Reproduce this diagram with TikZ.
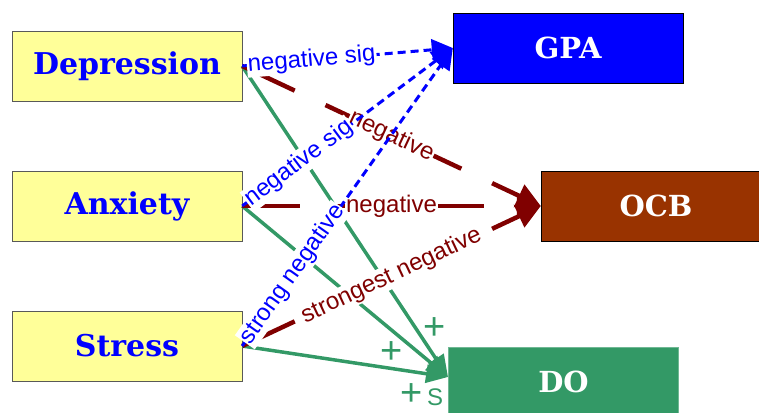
\documentclass[tikz,border=0pt]{standalone}
\usepackage{fontspec}
\newfontfamily\labelfont{Liberation Sans}
\newfontfamily\boxfont{DejaVu Serif}
\usetikzlibrary{arrows.meta}
\definecolor{boxyellow}{HTML}{FFFF99}
\definecolor{gpablue}{HTML}{0000FF}
\definecolor{ocbbrown}{HTML}{993300}
\definecolor{dogreen}{HTML}{339966}
\definecolor{negred}{HTML}{800000}
\begin{document}
\begin{tikzpicture}[x=1pt,y=-1pt,
  factor/.style={draw=black!65,fill=boxyellow,minimum width=230pt,minimum height=70pt,text=gpablue,font=\boxfont\bfseries\fontsize{30}{34}\selectfont},
  outcome/.style={draw=black,minimum width=230pt,minimum height=70pt,text=white,font=\boxfont\bfseries\fontsize{29}{34}\selectfont},
  sigline/.style={color=gpablue,line width=3pt,dash pattern=on 8pt off 5pt,-{Triangle[length=21pt,width=21pt]}},
  negline/.style={color=negred,line width=4.5pt,dash pattern=on 58pt off 34pt,-{Triangle[length=24pt,width=24pt]}},
  posline/.style={color=dogreen,line width=3.5pt,-{Triangle[length=22pt,width=18pt]}},
  lbl/.style={sloped,fill=white,inner sep=1pt,font=\labelfont\fontsize{24}{24}\selectfont},
  plus/.style={text=dogreen,inner sep=0pt,font=\labelfont\fontsize{24}{24}\selectfont}]
\useasboundingbox (0,0) rectangle (759,412);
\clip (0,0) rectangle (759,412);
\node[factor] (dep) at (127,66) {Depression};
\node[factor] (anx) at (127,206) {Anxiety};
\node[factor] (str) at (127,346) {Stress};
\node[outcome,fill=gpablue] (gpa) at (568,48) {GPA};
\node[outcome,fill=ocbbrown] (ocb) at (656,206) {OCB};
\node[outcome,fill=dogreen,draw=dogreen!70] (do) at (563.5,382) {DO};
\coordinate (doin) at (448,377);
% green paths to DO
\draw[posline] (dep.east) -- (doin);
\draw[posline] (anx.east) -- (doin);
\draw[posline] (str.east) -- (doin);
\node[plus] (plusa) at (435,329) {\fontsize{38}{38}\selectfont+};
\node[plus] (plusb) at (392,353) {\fontsize{38}{38}\selectfont+};
\node[plus] (plusc) at (422,395) {{\fontsize{38}{38}\selectfont+}\,S};
% red paths to OCB
\draw[negline] (dep.east) -- node[lbl,pos=0.5] {negative} (ocb.west);
\draw[negline] (anx.east) -- node[lbl,pos=0.5] {negative} (ocb.west);
\draw[negline] (str.east) -- node[lbl,pos=0.5] {strongest negative} (ocb.west);
% blue paths to GPA
\draw[sigline] (dep.east) -- node[lbl,pos=0.33] {negative sig} (gpa.west);
\draw[sigline] (anx.east) -- node[lbl,pos=0.27] {negative sig} (gpa.west);
\draw[sigline] (str.east) -- node[lbl,pos=0.24] {strong negative} (gpa.west);
\end{tikzpicture}
\end{document}
